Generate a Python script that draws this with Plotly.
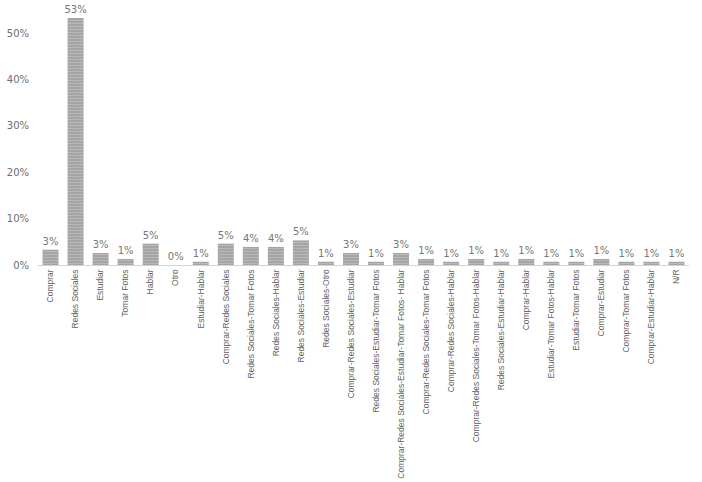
import plotly.graph_objects as go

# Uso del teléfono: proporción de respuestas por actividad
categorias = [
    "Comprar", "Redes Sociales", "Estudiar", "Tomar Fotos", "Hablar", "Otro",
    "Estudiar-Hablar", "Comprar-Redes Sociales", "Redes Sociales-Tomar Fotos",
    "Redes Sociales-Hablar", "Redes Sociales-Estudiar", "Redes Sociales-Otro",
    "Comprar-Redes Sociales-Estudiar", "Redes Sociales-Estudiar-Tomar Fotos",
    "Comprar-Redes Sociales-Estudiar-Tomar Fotos- Hablar",
    "Comprar-Redes Sociales-Tomar Fotos", "Comprar-Redes Sociales-Hablar",
    "Comprar-Redes Sociales-Tomar Fotos-Hablar", "Redes Sociales-Estudiar-Hablar",
    "Comprar-Hablar", "Estudiar-Tomar Fotos-Hablar", "Estudiar-Tomar Fotos",
    "Comprar-Estudiar", "Comprar-Tomar Fotos", "Comprar-Estudiar-Hablar", "N/R",
]
porcentajes = [
    0.033, 0.533, 0.026, 0.013, 0.046, 0.0,
    0.007, 0.046, 0.039,
    0.039, 0.053, 0.007,
    0.026, 0.007,
    0.026,
    0.013, 0.007,
    0.013, 0.007,
    0.013, 0.007, 0.007,
    0.013, 0.007, 0.007, 0.007,
]
ticks_y = [0, 0.1, 0.2, 0.3, 0.4, 0.5]

gris_texto = "#6e6e6e"

fig = go.Figure(
    go.Bar(
        x=categorias,
        y=porcentajes,
        marker=dict(
            color="#a0a0a0",
            line=dict(width=0),
            pattern=dict(shape="-", fillmode="overlay", fgcolor="#d2d2d2",
                         size=3, solidity=0.45),
        ),
        texttemplate="%{y:.0%}",
        textposition="outside",
        constraintext="none",
        cliponaxis=False,
        textfont=dict(family="DejaVu Sans", size=10, color="#767676"),
    )
)

fig.update_layout(
    width=702,
    height=482,
    margin=dict(l=38, r=13, t=10, b=217),
    paper_bgcolor="white",
    plot_bgcolor="white",
    bargap=0.36,
    showlegend=False,
    xaxis=dict(
        automargin=False,
        tickangle=-90,
        showgrid=False,
        showline=True,
        linecolor="#d4d4d4",
        linewidth=1,
        ticks="",
        tickfont=dict(family="Liberation Sans", size=8.5, color="#5f5f5f"),
    ),
    yaxis=dict(
        automargin=False,
        range=[0, 0.55],
        tickvals=ticks_y,
        tickformat=".0%",
        showgrid=False,
        zeroline=False,
        showline=False,
        ticks="",
        ticklabelstandoff=8,
        tickfont=dict(family="DejaVu Sans", size=10, color=gris_texto),
    ),
)

fig.write_html("out.html")
